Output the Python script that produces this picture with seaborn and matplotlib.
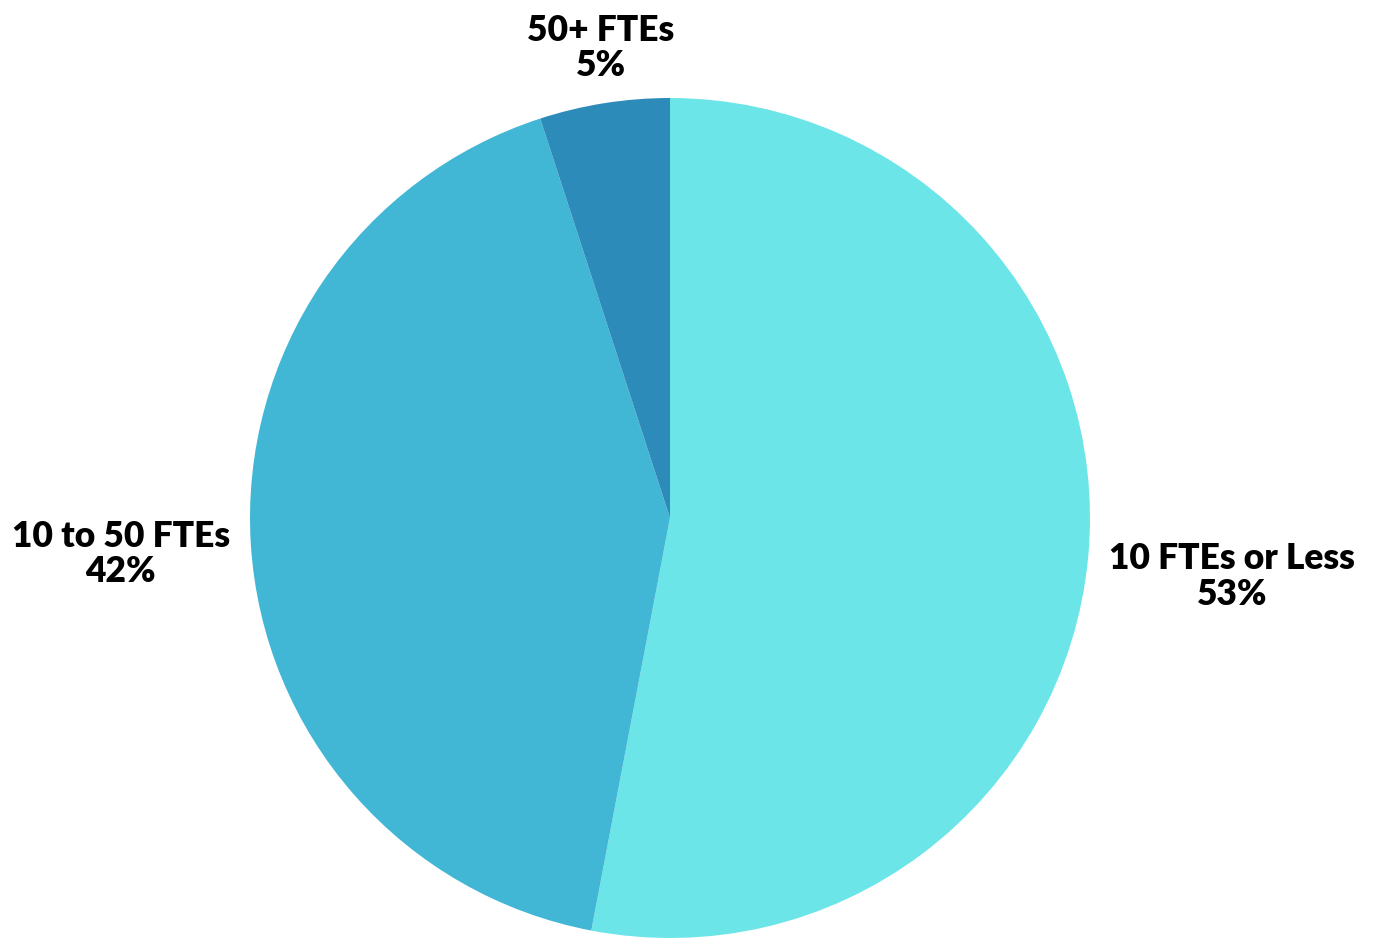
import numpy as np
import matplotlib
matplotlib.use("Agg")
import matplotlib.pyplot as plt
import seaborn as sns

categories = ["10 FTEs or Less", "10 to 50 FTEs", "50+ FTEs"]
values = [53, 42, 5]
colors = ["#6ce5e8", "#41b7d5", "#2d8bba"]

sns.set_theme(style="white")
plt.rcParams['font.family'] = ['Lato', 'DejaVu Sans']

W, H = 1378, 939
fig = plt.figure(figsize=(W / 100, H / 100), dpi=100)
cx, cy, r = 670, 518, 420
ax = fig.add_axes([(cx - r) / W, (H - cy - r) / H, 2 * r / W, 2 * r / H])

wedges, _ = ax.pie(values, colors=colors, startangle=90, counterclock=False,
                   wedgeprops=dict(linewidth=0))
ax.set_xlim(-1, 1)
ax.set_ylim(-1, 1)
ax.set_aspect('equal')
ax.axis('off')

offsets = [(0.0, -0.04), (0.0, -0.02), (0.0, 0.0)]
for w, cat, v, (ox, oy) in zip(wedges, categories, values, offsets):
    ang = np.deg2rad((w.theta1 + w.theta2) / 2)
    x, y = 1.05 * np.cos(ang), 1.05 * np.sin(ang)
    ha = 'left' if x > 0.3 else ('right' if x < -0.3 else 'center')
    va = 'bottom' if y > 0.5 else 'center'
    ax.text(x + ox, y + oy, f"{cat}\n{v}%", ha=ha, va=va, multialignment='center',
            fontsize=25.5, fontweight='heavy', color='black', linespacing=1.1,
            clip_on=False)

fig.savefig("out.png", dpi=100)
